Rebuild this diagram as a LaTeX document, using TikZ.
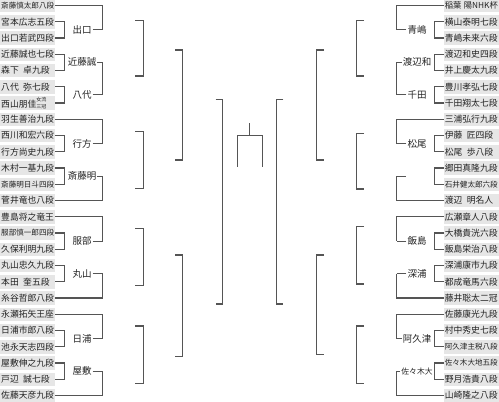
\documentclass[tikz,border=0pt]{standalone}
\usepackage{fontspec}
\usepackage{graphicx}
\setmainfont{Noto Sans CJK JP}
\usetikzlibrary{calc}
\definecolor{boxgray}{HTML}{E6E6E6}
\definecolor{linegray}{HTML}{555555}
\definecolor{txt}{HTML}{222222}
\newsavebox\nmbox
\newcommand\fitname[1]{\sbox\nmbox{#1}\ifdim\wd\nmbox>53pt\resizebox{53pt}{!}{\usebox\nmbox}\else\usebox\nmbox\fi}
\newcommand\hs{\hspace{0.5em}}
\newcommand\Lname[3]{\node[lname] (#1) at (0,{5.5+(#2-1)*16.25}) {\fitname{#3}};}
\newcommand\Rname[3]{\node[rname] (#1) at (499,{5.5+(#2-1)*16.25}) {\fitname{#3}};}
\newcommand\Lpair[4]{%
  \draw[br] (#1.east) -- (#1.east -| xL1) -- (#2.east -| xL1) -- (#2.east);
  \coordinate (#3c) at ($(#1.east)!0.5!(#2.east)$);
  \node[wlab] (#3) at (#3c -| xLL) {#4};
  \draw[br] (#3.east) -- (#3.east -| xL2);}
\newcommand\Rpair[4]{%
  \draw[br] (#1.west) -- (#1.west -| xR1) -- (#2.west -| xR1) -- (#2.west);
  \coordinate (#3c) at ($(#1.west)!0.5!(#2.west)$);
  \node[wlab] (#3) at (#3c -| xRL) {#4};
  \draw[br] (#3.west) -- (#3.west -| xR2);}
\newcommand\Bk[4]{\draw[br] (#1,#3) -- (#2,#3) -- (#2,#4) -- (#1,#4);}
\begin{document}
\begin{tikzpicture}[x=1pt,y=-1pt,
  lname/.style={anchor=west,fill=boxgray,text=txt,inner xsep=1pt,inner ysep=0pt,
    text width=53pt,align=left,minimum height=13.5pt,font=\fontsize{8.8}{9}\selectfont},
  rname/.style={lname,anchor=east},
  wlab/.style={inner sep=1pt,text=txt,font=\fontsize{9.5}{10}\selectfont},
  br/.style={draw=linegray,line width=1.2pt}]
\useasboundingbox (0,0) rectangle (499,402);
\coordinate (xL1) at (64.5,0);
\coordinate (xL2) at (102.5,0);
\coordinate (xLL) at (82,0);
\coordinate (xR1) at (434.5,0);
\coordinate (xR2) at (396.5,0);
\coordinate (xRL) at (417,0);
% left names
\Lname{la1}{1}{斎藤慎太郎八段}
\Lname{la2}{2}{宮本広志五段}
\Lname{la3}{3}{出口若武四段}
\Lname{la4}{4}{近藤誠也七段}
\Lname{la5}{5}{森下\hs 卓九段}
\Lname{la6}{6}{八代\hs 弥七段}
\Lname{la7}{7}{西山朋佳\raisebox{-1.5pt}{\fontsize{5}{5.5}\selectfont\shortstack{女流\\三冠}}}
\Lname{la8}{8}{羽生善治九段}
\Lname{la9}{9}{西川和宏六段}
\Lname{la10}{10}{行方尚史九段}
\Lname{la11}{11}{木村一基九段}
\Lname{la12}{12}{斎藤明日斗四段}
\Lname{la13}{13}{菅井竜也八段}
\Lname{la14}{14}{豊島将之竜王}
\Lname{la15}{15}{服部慎一郎四段}
\Lname{la16}{16}{久保利明九段}
\Lname{la17}{17}{丸山忠久九段}
\Lname{la18}{18}{本田\hs 奎五段}
\Lname{la19}{19}{糸谷哲郎八段}
\Lname{la20}{20}{永瀬拓矢王座}
\Lname{la21}{21}{日浦市郎八段}
\Lname{la22}{22}{池永天志四段}
\Lname{la23}{23}{屋敷伸之九段}
\Lname{la24}{24}{戸辺\hs 誠七段}
\Lname{la25}{25}{佐藤天彦九段}
% right names
\Rname{ra1}{1}{稲葉\hspace{0.3em}陽NHK杯}
\Rname{ra2}{2}{横山泰明七段}
\Rname{ra3}{3}{青嶋未来六段}
\Rname{ra4}{4}{渡辺和史四段}
\Rname{ra5}{5}{井上慶太九段}
\Rname{ra6}{6}{豊川孝弘七段}
\Rname{ra7}{7}{千田翔太七段}
\Rname{ra8}{8}{三浦弘行九段}
\Rname{ra9}{9}{伊藤\hs 匠四段}
\Rname{ra10}{10}{松尾\hs 歩八段}
\Rname{ra11}{11}{郷田真隆九段}
\Rname{ra12}{12}{石井健太郎六段}
\Rname{ra13}{13}{渡辺\hs 明名人}
\Rname{ra14}{14}{広瀬章人八段}
\Rname{ra15}{15}{大橋貴洸六段}
\Rname{ra16}{16}{飯島栄治八段}
\Rname{ra17}{17}{深浦康市九段}
\Rname{ra18}{18}{都成竜馬六段}
\Rname{ra19}{19}{藤井聡太二冠}
\Rname{ra20}{20}{佐藤康光九段}
\Rname{ra21}{21}{村中秀史七段}
\Rname{ra22}{22}{阿久津主税八段}
\Rname{ra23}{23}{佐々木大地五段}
\Rname{ra24}{24}{野月浩貴八段}
\Rname{ra25}{25}{山崎隆之八段}
% left first and second rounds
\Lpair{la2}{la3}{lw1}{出口}
\draw[br] (la1.east) -- (la1.east -| xL2) -- (lw1.east -| xL2);
\Lpair{la4}{la5}{lw2}{近藤誠}
\Lpair{la6}{la7}{lw3}{八代}
\draw[br] (lw2.east -| xL2) -- (lw3.east -| xL2);
\Lpair{la9}{la10}{lw4}{行方}
\draw[br] (la8.east) -- (la8.east -| xL2) -- (lw4.east -| xL2);
\Lpair{la11}{la12}{lw5}{斎藤明}
\draw[br] (lw5.east -| xL2) -- (la13.east -| xL2) -- (la13.east);
\Lpair{la15}{la16}{lw6}{服部}
\draw[br] (la14.east) -- (la14.east -| xL2) -- (lw6.east -| xL2);
\Lpair{la17}{la18}{lw7}{丸山}
\draw[br] (lw7.east -| xL2) -- (la19.east -| xL2) -- (la19.east);
\Lpair{la21}{la22}{lw8}{日浦}
\draw[br] (la20.east) -- (la20.east -| xL2) -- (lw8.east -| xL2);
\Lpair{la23}{la24}{lw9}{屋敷}
\draw[br] (lw9.east -| xL2) -- (la25.east -| xL2) -- (la25.east);
% right first and second rounds
\Rpair{ra2}{ra3}{rw1}{青嶋}
\draw[br] (ra1.west) -- (ra1.west -| xR2) -- (rw1.west -| xR2);
\Rpair{ra4}{ra5}{rw2}{渡辺和}
\Rpair{ra6}{ra7}{rw3}{千田}
\draw[br] (rw2.west -| xR2) -- (rw3.west -| xR2);
\Rpair{ra9}{ra10}{rw4}{松尾}
\draw[br] (ra8.west) -- (ra8.west -| xR2) -- (rw4.west -| xR2);
\draw[br] (ra11.west) -- (ra11.west -| xR1) -- (ra12.west -| xR1) -- (ra12.west);
\coordinate (rw5) at ($(ra11.west)!0.5!(ra12.west)$);
\coordinate (rw5t) at ($(rw5 -| xR2)+(9,0)$);
\draw[br] (rw5t) -- (rw5 -| xR2) -- (ra13.west -| xR2) -- (ra13.west);
\Rpair{ra15}{ra16}{rw6}{飯島}
\draw[br] (ra14.west) -- (ra14.west -| xR2) -- (rw6.west -| xR2);
\Rpair{ra17}{ra18}{rw7}{深浦}
\draw[br] (rw7.west -| xR2) -- (ra19.west -| xR2) -- (ra19.west);
\Rpair{ra21}{ra22}{rw8}{阿久津}
\draw[br] (ra20.west) -- (ra20.west -| xR2) -- (rw8.west -| xR2);
\Rpair{ra23}{ra24}{rw9}{\fontsize{7.8}{8}\selectfont 佐々木大}
\draw[br] (rw9.west -| xR2) -- (ra25.west -| xR2) -- (ra25.west);
% later rounds, left
\Bk{135}{143.3}{20.7}{76}
\Bk{135}{143.3}{131.7}{188.3}
\Bk{135}{143.3}{228.3}{285.7}
\Bk{135}{143.3}{326}{383.3}
\Bk{175}{182.3}{50}{160}
\Bk{175}{182.3}{255}{356.7}
\Bk{215.7}{222.7}{99.3}{304}
% later rounds, right
\Bk{364}{356.3}{20.7}{76}
\Bk{364}{356.3}{133.3}{189}
\Bk{364}{356.3}{226.7}{284}
\Bk{364}{356.3}{326}{383.3}
\Bk{324}{316.7}{50}{160}
\Bk{324}{316.7}{255}{354.3}
\Bk{283.3}{276.3}{99.3}{304}
% final
\coordinate (fa) at (237.3,166.7);
\coordinate (fb) at (262.3,166.7);
\coordinate (fs) at (249.8,123.3);
\draw[br] (fa) -- (237.3,135.7) -- (262.3,135.7) -- (fb);
\draw[br] (fs) -- (249.8,135.7);
\end{tikzpicture}
\end{document}
